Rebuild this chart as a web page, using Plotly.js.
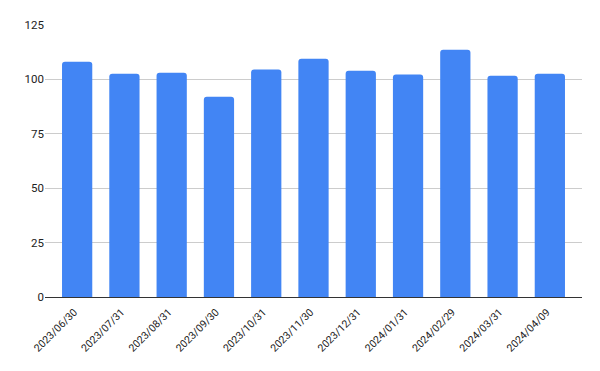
<!DOCTYPE html>
<html>
<head>
<meta charset="utf-8">
<script src="https://cdn.plot.ly/plotly-3.0.1.min.js"></script>
<style>html,body{margin:0;padding:0;background:#fff;}#chart{width:600px;height:371px;}</style>
</head>
<body>
<div id="chart"></div>
<script>
const categories = ["2023/06/30","2023/07/31","2023/08/31","2023/09/30","2023/10/31","2023/11/30","2023/12/31","2024/01/31","2024/02/29","2024/03/31","2024/04/09"];
const values = [108.1, 102.6, 103.1, 92.0, 104.5, 109.5, 104.0, 102.2, 113.6, 101.7, 102.6];
const yTicks = [0, 25, 50, 75, 100, 125];

const trace = {
  type: 'bar',
  x: categories,
  y: values,
  marker: {color: '#4285F4', cornerradius: 3},
  width: 0.64,
  hoverinfo: 'x+y'
};

const layout = {
  width: 600, height: 371,
  margin: {l: 45, r: 18, t: 25, b: 74, pad: 0},
  paper_bgcolor: '#fff', plot_bgcolor: '#fff',
  showlegend: false,
  font: {family: 'Roboto, Arial, sans-serif', size: 11, color: '#222'},
  xaxis: {
    type: 'category',
    range: [-0.68, 10.68],
    tickangle: -45,
    ticklabelstandoff: 6,
    ticklabelshift: -3,
    showgrid: false, zeroline: false, showline: false,
    ticks: '', tickfont: {size: 10.5, color: '#222'}
  },
  yaxis: {
    range: [0, 125],
    tickvals: yTicks,
    ticktext: yTicks.map(String),
    showgrid: true, gridcolor: '#cccccc', gridwidth: 1,
    zeroline: true, zerolinecolor: '#333333', zerolinewidth: 1,
    showline: false, ticks: '',
    tickfont: {size: 11.5, color: '#222'}
  }
};

Plotly.newPlot('chart', [trace], layout, {displayModeBar: false, staticPlot: true});
</script>
</body>
</html>
